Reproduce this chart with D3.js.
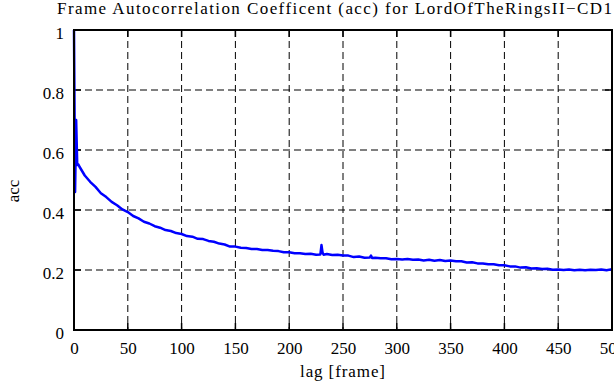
<!DOCTYPE html>
<html><head><meta charset="utf-8">
<script src="https://cdn.jsdelivr.net/npm/d3@7"></script>
<style>body{margin:0;background:#fff}</style>
</head><body><svg id="c" width="614" height="385"></svg>
<script>
const titleText = "Frame Autocorrelation Coefficent (acc) for LordOfTheRingsII\u2212CD1";
const xLabel = "lag [frame]";
const yLabel = "acc";
const xTicks = [0,50,100,150,200,250,300,350,400,450,500];
const yTicks = [0,0.2,0.4,0.6,0.8,1];
const lags = [0,1,2,3,4,5,10,15,20,25,30,35,40,45,50,55,60,65,70,75,80,85,90,95,100,105,110,115,120,125,130,135,140,145,150,155,160,165,170,175,180,185,190,195,200,205,210,215,220,225,229,230,231,232,235,240,245,250,255,260,265,270,275,276,277,280,285,290,295,300,305,310,315,320,325,330,335,340,345,350,355,360,365,370,375,380,385,390,395,400,405,410,415,420,425,430,435,440,445,450,455,460,465,470,475,480,485,490,495,500];
const acc = [1.0,0.46,0.70,0.55,0.552,0.545,0.515,0.494,0.477,0.456,0.443,0.427,0.416,0.402,0.393,0.380,0.372,0.361,0.355,0.346,0.341,0.333,0.330,0.323,0.320,0.313,0.311,0.304,0.303,0.297,0.294,0.288,0.285,0.278,0.278,0.274,0.273,0.270,0.270,0.267,0.267,0.264,0.263,0.259,0.259,0.256,0.256,0.253,0.254,0.251,0.252,0.283,0.258,0.251,0.253,0.250,0.251,0.248,0.248,0.243,0.245,0.241,0.242,0.248,0.240,0.241,0.239,0.239,0.236,0.237,0.235,0.237,0.234,0.235,0.232,0.234,0.231,0.233,0.230,0.232,0.229,0.229,0.225,0.226,0.222,0.222,0.219,0.219,0.216,0.216,0.212,0.212,0.208,0.209,0.205,0.206,0.203,0.204,0.201,0.202,0.200,0.202,0.199,0.201,0.199,0.201,0.200,0.202,0.199,0.203];

const svg = d3.select("#c");
const L = 74, R = 612, T = 30, B = 330;
const x = d3.scaleLinear().domain([0,500]).range([L,R]);
const y = d3.scaleLinear().domain([0,1]).range([B,T]);
const fs = 17;
const FF = "Liberation Serif";

// grid
svg.append("g").selectAll("line").data(xTicks.slice(1,-1)).join("line")
  .attr("x1",d=>x(d)).attr("x2",d=>x(d)).attr("y1",T).attr("y2",B)
  .attr("stroke","#000").attr("stroke-width",1).attr("stroke-dasharray","7,4");
svg.append("g").selectAll("line").data(yTicks.slice(1,-1)).join("line")
  .attr("x1",L).attr("x2",R).attr("y1",d=>y(d)).attr("y2",d=>y(d))
  .attr("stroke","#000").attr("stroke-width",1).attr("stroke-dasharray","7,4");

// tick marks inward
const tk = 7;
const tg = svg.append("g").attr("stroke","#000").attr("stroke-width",1.5);
xTicks.forEach(d=>{
  tg.append("line").attr("x1",x(d)).attr("x2",x(d)).attr("y1",B).attr("y2",B-tk);
  tg.append("line").attr("x1",x(d)).attr("x2",x(d)).attr("y1",T).attr("y2",T+tk);
});
yTicks.forEach(d=>{
  tg.append("line").attr("x1",L).attr("x2",L+tk).attr("y1",y(d)).attr("y2",y(d));
  tg.append("line").attr("x1",R).attr("x2",R-tk).attr("y1",y(d)).attr("y2",y(d));
});

// tick labels via d3 axes
const xa = svg.append("g").attr("transform",`translate(0,${B})`)
  .call(d3.axisBottom(x).tickValues(xTicks).tickFormat(d3.format("d")).tickSize(0).tickPadding(0));
xa.attr("font-family",FF);
xa.select(".domain").remove();
xa.selectAll("text").attr("y",24).attr("dy",0).attr("font-size",fs).attr("font-family",FF).attr("fill","#000");
const ya = svg.append("g").attr("transform",`translate(${L},0)`)
  .call(d3.axisLeft(y).tickValues(yTicks).tickFormat(d=>d3.format("")(d)).tickSize(0).tickPadding(0));
ya.attr("font-family",FF);
ya.select(".domain").remove();
ya.selectAll("text").attr("x",-10).attr("dy","0.5em").attr("font-size",fs).attr("font-family",FF).attr("fill","#000");

// data line
const line = d3.line().x((d,i)=>x(lags[i])).y(d=>y(d));
svg.append("path").datum(acc).attr("d",line).attr("fill","none")
  .attr("stroke","#0000ff").attr("stroke-width",2.5).attr("stroke-linejoin","round");

// border
svg.append("rect").attr("x",L).attr("y",T).attr("width",R-L).attr("height",B-T)
  .attr("fill","none").attr("stroke","#000").attr("stroke-width",2);

// title & labels
svg.append("text").attr("x",57).attr("y",14).attr("font-size",fs).attr("font-family",FF)
  .attr("textLength",555).attr("lengthAdjust","spacing").text(titleText);
svg.append("text").attr("x",300).attr("y",377).attr("font-size",fs).attr("font-family",FF)
  .attr("textLength",85).attr("lengthAdjust","spacing").text(xLabel);
svg.append("text").attr("transform","translate(19,191) rotate(-90)").attr("text-anchor","middle").attr("font-size",fs).attr("font-family",FF).text(yLabel);
</script></body></html>
